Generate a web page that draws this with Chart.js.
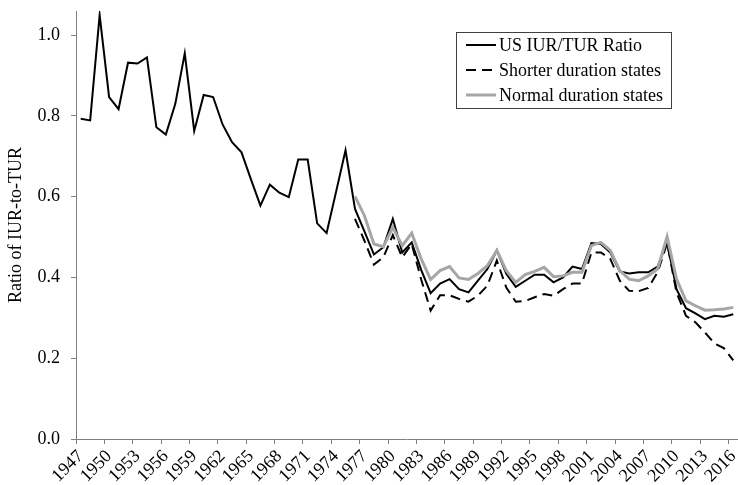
<!DOCTYPE html>
<html><head><meta charset="utf-8">
<script src="https://cdn.jsdelivr.net/npm/chart.js@4"></script>
<style>html,body{margin:0;padding:0;background:#fff}#wrap{width:738px;height:485px}</style>
</head><body><div id="wrap"><canvas id="c" width="738" height="485"></canvas></div>
<script>
const years = [1947,1948,1949,1950,1951,1952,1953,1954,1955,1956,
  1957,1958,1959,1960,1961,1962,1963,1964,1965,1966,
  1967,1968,1969,1970,1971,1972,1973,1974,1975,1976,
  1977,1978,1979,1980,1981,1982,1983,1984,1985,1986,
  1987,1988,1989,1990,1991,1992,1993,1994,1995,1996,
  1997,1998,1999,2000,2001,2002,2003,2004,2005,2006,
  2007,2008,2009,2010,2011,2012,2013,2014,2015,2016];

const usRatio = [0.793,0.789,1.050,0.847,0.817,0.932,0.930,0.945,0.772,0.754,
  0.830,0.955,0.763,0.852,0.847,0.779,0.735,0.710,0.643,0.578,
  0.630,0.610,0.599,0.692,0.692,0.534,0.510,0.612,0.715,0.570,
  0.514,0.457,0.475,0.545,0.462,0.487,0.419,0.361,0.385,0.396,
  0.371,0.363,0.392,0.421,0.467,0.409,0.377,0.392,0.407,0.407,
  0.388,0.400,0.427,0.421,0.485,0.483,0.462,0.415,0.410,0.413,
  0.413,0.427,0.487,0.371,0.324,0.311,0.297,0.305,0.303,0.309];

const statesStartYear = 1976;
const shorterStates = [0.545,0.491,0.432,0.450,0.505,0.450,0.483,0.395,0.318,0.356,
  0.356,0.347,0.340,0.355,0.380,0.442,0.375,0.340,0.342,0.351,
  0.359,0.355,0.371,0.385,0.385,0.462,0.462,0.446,0.392,0.367,
  0.366,0.374,0.413,0.485,0.363,0.305,0.289,0.264,0.237,0.225,0.195];
const normalStates = [0.601,0.553,0.483,0.476,0.524,0.479,0.510,0.446,0.395,0.417,
  0.427,0.399,0.395,0.410,0.429,0.467,0.417,0.388,0.407,0.415,
  0.425,0.402,0.404,0.413,0.413,0.479,0.487,0.467,0.417,0.396,
  0.392,0.404,0.421,0.501,0.396,0.342,0.330,0.319,0.320,0.322,0.326];

const seriesNames = ['US IUR/TUR Ratio','Shorter duration states','Normal duration states'];
const yTicks = [0,0.2,0.4,0.6,0.8,1.0];
const axisTitle = 'Ratio of IUR-to-TUR';

const FONT = '"Liberation Serif", "Times New Roman", serif';
const alignTo = (arr) => years.map(y => (y >= statesStartYear ? arr[y - statesStartYear] : null));

const styles = [
  {borderColor:'#000000', borderWidth:2, borderDash:[]},
  {borderColor:'#000000', borderWidth:2, borderDash:[10,6]},
  {borderColor:'#a6a6a6', borderWidth:3, borderDash:[]}
];

const boxLegend = {
  id:'boxLegend',
  afterDraw(chart){
    const ctx = chart.ctx;
    const x0 = 456, y0 = 32, w = 215, h = 76;
    ctx.save();
    ctx.fillStyle = '#ffffff';
    ctx.fillRect(x0, y0, w, h);
    ctx.strokeStyle = '#404040';
    ctx.lineWidth = 1;
    ctx.strokeRect(x0 + 0.5, y0 + 0.5, w, h);
    ctx.font = '18px ' + FONT;
    ctx.textBaseline = 'middle';
    ctx.textAlign = 'left';
    const rows = [45, 70, 95];
    seriesNames.forEach((name, i) => {
      const s = styles[i];
      ctx.beginPath();
      ctx.strokeStyle = s.borderColor;
      ctx.lineWidth = s.borderWidth;
      ctx.setLineDash(s.borderDash);
      ctx.moveTo(466, rows[i]);
      ctx.lineTo(496, rows[i]);
      ctx.stroke();
      ctx.setLineDash([]);
      ctx.fillStyle = '#000';
      ctx.fillText(name, 499, rows[i] + 1);
    });
    ctx.restore();
  }
};

const noPad = (s) => { s.paddingLeft = 0; s.paddingRight = 0; s.paddingTop = 0; s.paddingBottom = 0; };

new Chart(document.getElementById('c'), {
  type: 'line',
  data: {
    labels: years.map(String),
    datasets: [
      Object.assign({label: seriesNames[0], data: usRatio, order: 2}, styles[0]),
      Object.assign({label: seriesNames[1], data: alignTo(shorterStates), order: 1}, styles[1]),
      Object.assign({label: seriesNames[2], data: alignTo(normalStates), order: 0}, styles[2])
    ]
  },
  options: {
    responsive: false,
    animation: false,
    devicePixelRatio: 1,
    layout: {padding: {top: 11, right: 0, left: 0, bottom: 0}},
    plugins: {legend: {display: false}, tooltip: {enabled: false}},
    elements: {point: {radius: 0}, line: {tension: 0, fill: false}},
    scales: {
      x: {
        type: 'category',
        offset: true,
        grid: {
          offset: true,
          drawOnChartArea: false,
          drawTicks: true,
          tickLength: 5,
          tickColor: (c) => (c.index % 3 === 0 ? '#808080' : 'rgba(0,0,0,0)')
        },
        border: {color: '#808080'},
        ticks: {
          autoSkip: false,
          maxRotation: 45,
          minRotation: 45,
          padding: 2,
          color: '#000',
          font: {family: FONT, size: 18},
          callback: (v, i) => (i % 3 === 0 ? String(years[i]) : '')
        },
        afterFit: (s) => { s.height = 46; noPad(s); }
      },
      y: {
        min: 0,
        max: 1.06,
        afterBuildTicks: (s) => { s.ticks = yTicks.map(v => ({value: v})); },
        ticks: {
          padding: 11,
          color: '#000',
          font: {family: FONT, size: 18},
          callback: (v) => Number(v).toFixed(1)
        },
        grid: {drawOnChartArea: false, tickLength: 5, tickColor: '#808080'},
        border: {color: '#808080'},
        title: {
          display: true,
          text: axisTitle,
          color: '#000',
          font: {family: FONT, size: 18},
          padding: {top: 5, bottom: 0}
        },
        afterFit: (s) => { s.width = 76; noPad(s); }
      }
    }
  },
  plugins: [boxLegend]
});
</script>
</body></html>
